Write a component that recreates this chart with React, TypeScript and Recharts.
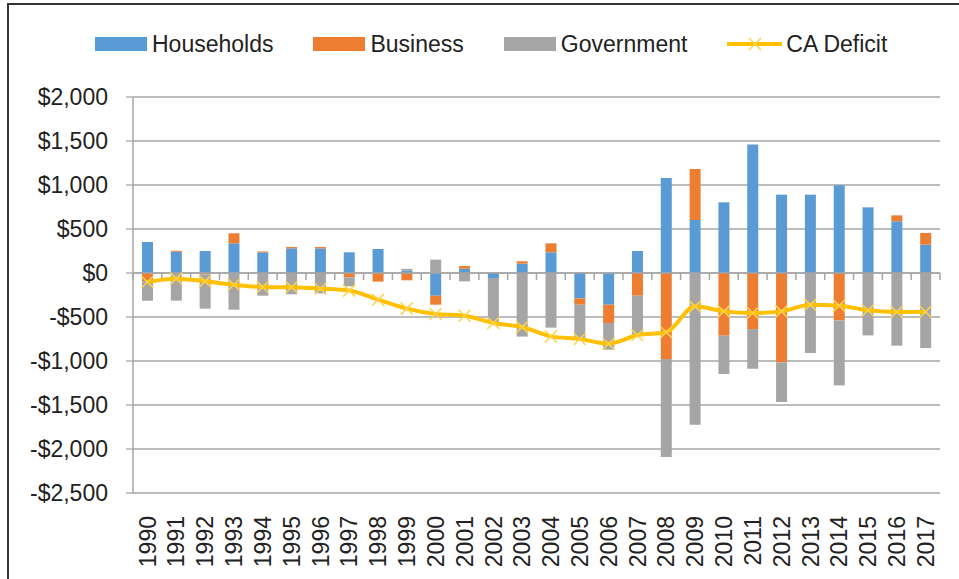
import React from 'react';
import {
  ComposedChart,
  Bar,
  Line,
  XAxis,
  YAxis,
  CartesianGrid,
  ReferenceLine,
} from 'recharts';

const years = [
  '1990', '1991', '1992', '1993', '1994', '1995', '1996', '1997', '1998', '1999',
  '2000', '2001', '2002', '2003', '2004', '2005', '2006', '2007', '2008', '2009',
  '2010', '2011', '2012', '2013', '2014', '2015', '2016', '2017',
];

const households = [
  352, 240, 250, 337, 235, 280, 280, 235, 273, 25,
  -258, 49, -57, 106, 235, -288, -360, 250, 1080, 602,
  803, 1459, 890, 890, 996, 746, 587, 322,
];

const business = [
  -95, 12, -15, 114, 10, 15, 15, -49, -98, -83,
  -102, 30, 0, 27, 102, -72, -208, -258, -978, 580,
  -712, -637, -1015, 0, -538, 0, 68, 133,
];

const government = [
  -220, -314, -390, -417, -258, -242, -231, -103, 0, 22,
  152, -95, -511, -723, -621, -379, -303, -443, -1114, -1724,
  -436, -451, -451, -909, -739, -709, -826, -853,
];

const caDeficit = [
  -102, -64, -95, -133, -159, -163, -178, -200, -303, -405,
  -466, -485, -568, -614, -720, -750, -803, -708, -674, -379,
  -436, -455, -436, -360, -371, -424, -443, -440,
];

const yTicks = [-2500, -2000, -1500, -1000, -500, 0, 500, 1000, 1500, 2000];

const series = [
  { key: 'households', name: 'Households', color: '#5B9BD5' },
  { key: 'business', name: 'Business', color: '#ED7D31' },
  { key: 'government', name: 'Government', color: '#A5A5A5' },
];
const lineColor = '#FFC000';

const data = years.map((year, i) => ({
  year,
  households: households[i],
  business: business[i],
  government: government[i],
  caDeficit: caDeficit[i],
}));

const FONT = '"Liberation Sans", Arial, sans-serif';
const GRID = '#A6A6A6';

const formatMoney = (v: number) => {
  const s = '$' + Math.abs(v).toLocaleString('en-US');
  return v < 0 ? '-' + s : s;
};

const XMarker = (props: any) => {
  const { cx, cy } = props;
  if (cx == null || cy == null) return null;
  const r = 6;
  return (
    <g stroke="#FFD24D" strokeWidth={1.5}>
      <line x1={cx - r} y1={cy - r} x2={cx + r} y2={cy + r} />
      <line x1={cx - r} y1={cy + r} x2={cx + r} y2={cy - r} />
    </g>
  );
};

const YearTick = (props: any) => {
  const { x, y, payload } = props;
  const ty = y + 15;
  return (
    <text
      x={x}
      y={ty}
      dy="0.36em"
      textAnchor="end"
      transform={`rotate(-90, ${x}, ${ty})`}
      fill="#222"
      fontSize={23}
      fontFamily={FONT}
    >
      {payload.value}
    </text>
  );
};

// zero axis with the category tick marks hanging below it
const ZeroAxis = (props: any) => {
  const { x1, y1, x2 } = props;
  if (x1 == null) return null;
  const n = data.length;
  const step = (x2 - x1) / n;
  const marks = [];
  for (let i = 0; i <= n; i++) {
    const x = x1 + i * step;
    marks.push(<line key={i} x1={x} y1={y1} x2={x} y2={y1 + 7} />);
  }
  return (
    <g stroke={GRID} strokeWidth={1.5}>
      <line x1={x1} y1={y1} x2={x2} y2={y1} />
      {marks}
    </g>
  );
};

const LegendBox = () => (
  <div
    style={{
      position: 'absolute',
      left: 95,
      top: 30,
      display: 'flex',
      alignItems: 'center',
      gap: 40,
      fontFamily: FONT,
      fontSize: 23,
      color: '#222',
      lineHeight: '28px',
    }}
  >
    {series.map((s) => (
      <div key={s.key} style={{ display: 'flex', alignItems: 'center', gap: 5 }}>
        <div style={{ width: 52, height: 14, background: s.color }} />
        <span>{s.name}</span>
      </div>
    ))}
    <div style={{ display: 'flex', alignItems: 'center', gap: 4 }}>
      <svg width={55} height={16}>
        <line x1={0} y1={8} x2={55} y2={8} stroke={lineColor} strokeWidth={4} />
        <line x1={22} y1={2} x2={34} y2={14} stroke="#FFD24D" strokeWidth={1.5} />
        <line x1={22} y1={14} x2={34} y2={2} stroke="#FFD24D" strokeWidth={1.5} />
      </svg>
      <span>CA Deficit</span>
    </div>
  </div>
);

export default function App() {
  return (
    <div
      style={{
        position: 'absolute',
        left: 0,
        top: 0,
        width: 959,
        height: 579,
        overflow: 'hidden',
        background: '#fff',
      }}
    >
      <div
        style={{
          position: 'absolute',
          left: 7,
          top: 3,
          width: 1000,
          height: 700,
          border: '2px solid #333',
        }}
      />
      <LegendBox />
      <div style={{ position: 'absolute', left: 0, top: 0 }}>
        <ComposedChart
          width={959}
          height={579}
          data={data}
          stackOffset="sign"
          margin={{ top: 97, right: 19, bottom: 0, left: 0 }}
        >
          <CartesianGrid vertical={false} stroke={GRID} strokeWidth={1.3} />
          <XAxis
            dataKey="year"
            height={86}
            axisLine={false}
            tickLine={false}
            interval={0}
            tick={<YearTick />}
          />
          <YAxis
            width={133}
            domain={[-2500, 2000]}
            ticks={yTicks}
            interval={0}
            tickFormatter={formatMoney}
            axisLine={{ stroke: GRID, strokeWidth: 1.5 }}
            tickLine={{ stroke: GRID, strokeWidth: 1.3 }}
            tickSize={7}
            tickMargin={18}
            tick={{ fill: '#222', fontSize: 23, fontFamily: FONT }}
          />
          {series.map((s) => (
            <Bar
              key={s.key}
              dataKey={s.key}
              name={s.name}
              stackId="a"
              fill={s.color}
              barSize={11}
              isAnimationActive={false}
            />
          ))}
          <ReferenceLine y={0} shape={<ZeroAxis />} />
          <Line
            type="monotone"
            dataKey="caDeficit"
            name="CA Deficit"
            stroke={lineColor}
            strokeWidth={4}
            dot={<XMarker />}
            activeDot={false}
            isAnimationActive={false}
          />
        </ComposedChart>
      </div>
    </div>
  );
}
